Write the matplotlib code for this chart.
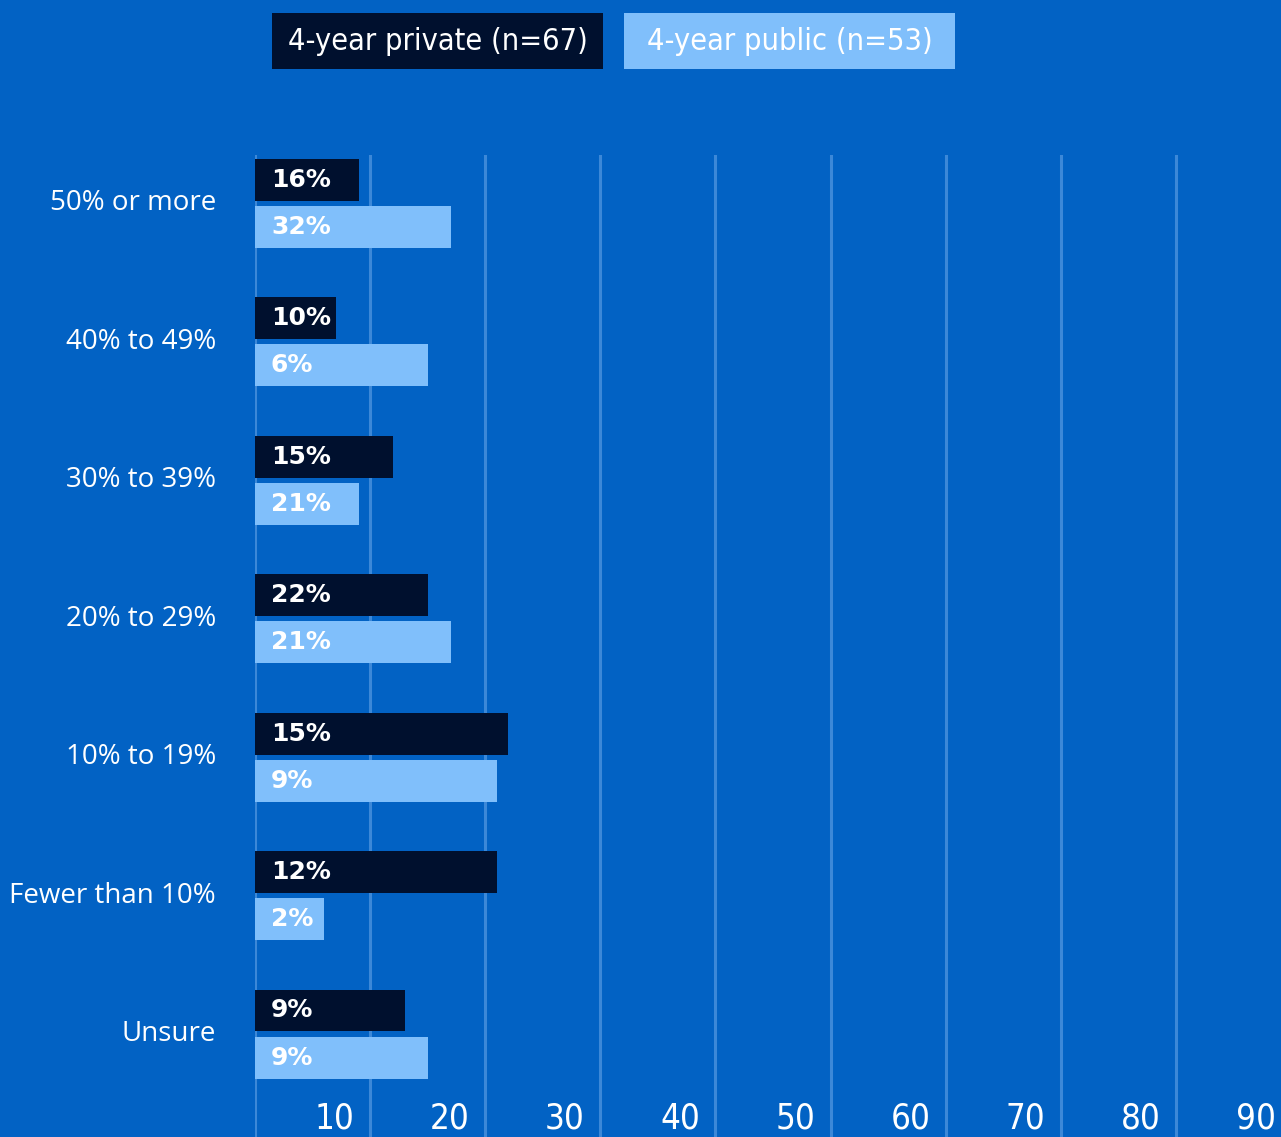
import matplotlib
matplotlib.use('Agg')
import matplotlib.pyplot as plt
from matplotlib.patches import Rectangle
from matplotlib.transforms import blended_transform_factory, offset_copy
import numpy as np

# Chart data (bar lengths, labels as printed)
categories = ['50% or more', '40% to 49%', '30% to 39%', '20% to 29%',
              '10% to 19%', 'Fewer than 10%', 'Unsure']
private_vals = [9, 7, 12, 15, 22, 21, 13]
public_vals = [17, 15, 9, 17, 21, 6, 15]
private_labels = ['16%', '10%', '15%', '22%', '15%', '12%', '9%']
public_labels = ['32%', '6%', '21%', '21%', '9%', '2%', '9%']
series_names = ['4-year private (n=67)', '4-year public (n=53)']
xticks = [10, 20, 30, 40, 50, 60, 70, 80, 90]

bg = '#0262C4'
dark = '#00102E'
light = '#80BFFB'
grid = '#3C88D8'

plt.rcParams['font.family'] = ['DejaVu Sans']

W, H = 1281, 1137
fig = plt.figure(figsize=(W / 100, H / 100), dpi=100, facecolor=bg)

# axes placed in pixel terms
left, right, top, bottom = 255, 1281, 155, 1137
ax = fig.add_axes([left / W, 1 - bottom / H, (right - left) / W, (bottom - top) / H])
ax.set_facecolor(bg)
for s in ax.spines.values():
    s.set_visible(False)

y = np.arange(len(categories))
bh = 0.303
off = 0.17
ax.barh(y - off, private_vals, height=bh, color=dark, zorder=3)
ax.barh(y + off, public_vals, height=bh, color=light, zorder=3)

ax.set_xlim(0, (right - left) / 11.51)
ax.set_ylim(6.744, -0.35)

for v in [0] + xticks:
    ax.axvline(v, color=grid, lw=2.2, zorder=1)

ax.set_xticks([])
ax.set_yticks([])

# bar value labels
for i in range(len(categories)):
    for lab, yy in ((private_labels[i], y[i] - off), (public_labels[i], y[i] + off)):
        ax.annotate(lab, (0, yy), xytext=(11.5, 0),
                    textcoords='offset points', ha='left', va='center',
                    color='white', fontsize=18, fontweight='bold',
                    family=['DejaVu Sans'], zorder=4)

# category labels
for i, c in enumerate(categories):
    ax.annotate(c, (0, y[i]), xytext=(-28, 0), textcoords='offset points',
                ha='right', va='center', color='white', fontsize=20,
                family=['Open Sans', 'DejaVu Sans'], annotation_clip=False)

# x tick labels (sit left of their gridline)
tr = offset_copy(blended_transform_factory(ax.transData, ax.transAxes),
                 fig=fig, x=-11, y=0, units='points')
for t in xticks:
    ax.text(t, 0.019, str(t), transform=tr, ha='right', va='center',
            color='white', fontsize=25, fontstretch='condensed', clip_on=False)

# legend boxes
boxes = [(272, 603, dark), (624, 955, light)]
for (x0, x1, col), name in zip(boxes, series_names):
    fig.add_artist(Rectangle((x0 / W, 1 - 69 / H), (x1 - x0) / W, 56 / H,
                             transform=fig.transFigure, facecolor=col,
                             edgecolor='none'))
    fig.text((x0 + x1) / 2 / W, 1 - 42 / H, name, ha='center', va='center',
             color='white', fontsize=22, fontstretch='condensed')

fig.savefig('out.png', dpi=100, facecolor=bg)
